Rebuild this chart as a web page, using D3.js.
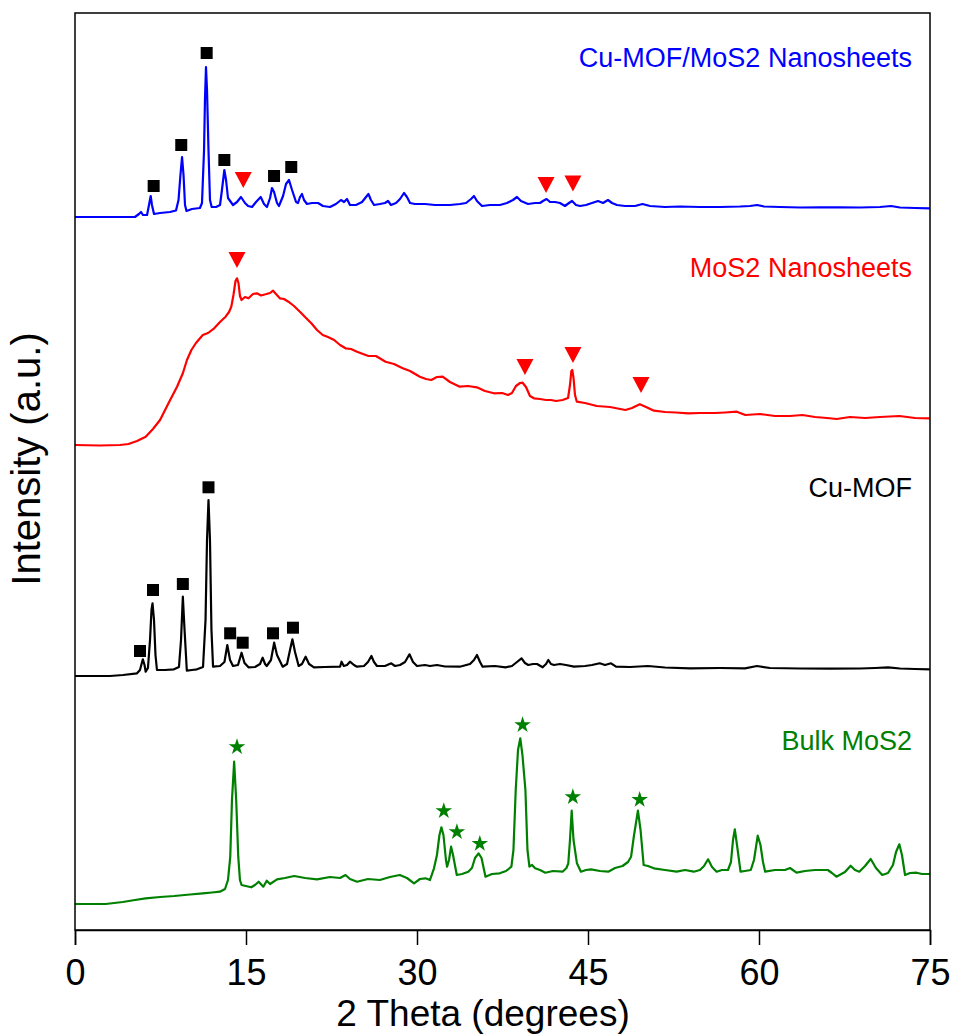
<!DOCTYPE html>
<html>
<head>
<meta charset="utf-8">
<script src="https://cdn.jsdelivr.net/npm/d3@7"></script>
<style>
  html, body { margin: 0; padding: 0; background: #fff; }
  svg { display: block; font-family: Arial, "Liberation Sans", Helvetica, sans-serif; }
</style>
</head>
<body>
<svg id="chart" width="957" height="1034"></svg>
<script>
// ---------------- DATA ----------------
const xTicks = [0, 15, 30, 45, 60, 75];
const xLabel = "2 Theta (degrees)";
const yLabel = "Intensity (a.u.)";

const seriesNames = ["Cu-MOF/MoS2 Nanosheets", "MoS2 Nanosheets", "Cu-MOF", "Bulk MoS2"];
const seriesColors = ["#0000FF", "#FF0000", "#000000", "#008000"];
const labelIntensity = [863, 653, 433, 180];

// [2theta, stacked intensity (a.u.)]
const cuMofMos2 = [[0,713],[5.26,713],[5.61,716],[5.79,718],[5.96,715],[6.32,715],[6.49,725],[6.64,734],[6.75,725],[6.93,716],[7.46,717],[8.33,718],[8.86,719.5],[9.08,730],[9.25,755],[9.39,773],[9.52,755],[9.65,725],[9.78,719],[10.26,721],[10.96,722],[11.14,727],[11.32,780],[11.40,830],[11.49,863],[11.58,840],[11.71,780],[11.84,730],[11.99,723],[12.37,723],[12.72,725],[12.89,740],[13.10,760],[13.25,750],[13.42,732],[13.86,725],[14.21,728],[14.56,733],[14.91,727],[15.18,724],[15.53,723],[15.88,728],[16.29,733],[16.58,726],[16.84,723],[17.11,732],[17.28,742],[17.46,738],[17.72,727],[17.89,724],[18.25,734],[18.51,746],[18.77,750],[19.04,740],[19.39,728],[19.56,727],[19.74,733],[19.91,736],[20.09,730],[20.35,726],[20.79,727],[21.32,727],[21.75,724],[22.37,723],[22.89,726],[23.33,730],[23.60,728],[23.86,731],[24.12,725],[24.65,725],[25.18,728],[25.53,733],[25.74,736],[25.96,730],[26.23,725],[26.75,726],[27.19,727],[27.46,729],[27.72,725],[28.16,727],[28.51,731],[28.86,737],[29.12,733],[29.39,727],[29.82,726],[30.70,726],[31.58,725],[32.89,725],[33.77,726],[34.30,727],[34.74,731],[35.00,734],[35.26,729],[35.70,724],[36.40,725],[37.28,725],[37.89,727],[38.42,730],[38.77,733],[39.12,729],[39.74,726],[40.35,727],[40.79,727],[41.05,729],[41.37,731],[41.67,728],[42.11,728],[42.54,727],[42.98,724],[43.33,727],[43.60,729],[43.95,725],[44.30,724],[44.82,725],[45.35,727],[45.88,729],[46.32,727],[46.75,730],[47.11,727],[47.54,725],[48.25,724],[49.12,724],[49.78,726],[50.44,724],[51.75,723],[53.07,723.5],[54.82,723],[56.58,723],[58.33,723.5],[59.21,724],[59.82,725],[60.44,723.5],[61.84,723],[63.60,722.5],[65.35,722.7],[67.11,722.7],[68.86,722.5],[70.61,723],[71.58,724],[72.37,722.5],[73.68,722],[75,721.7]];

const mos2Nano = [[0,485],[2.19,484.5],[3.95,485],[4.69,486],[5.44,489],[6.20,493.3],[6.84,501],[7.46,510],[8.20,526.7],[8.95,543.3],[9.46,556.7],[9.82,570],[10.21,580],[10.61,587],[11.21,595],[11.67,597],[12.21,601.7],[12.72,608],[13.21,613.3],[13.51,618],[13.71,623.3],[13.90,635],[14.08,649],[14.21,651.7],[14.34,647],[14.47,634],[14.61,630],[14.91,633],[15.22,631.7],[15.61,636],[15.96,636.7],[16.32,634.5],[16.72,635.7],[17.11,637],[17.37,639.3],[17.63,636],[17.97,631.7],[18.33,631],[18.72,628.3],[19.21,624],[19.73,618.3],[20.18,613],[20.73,606.7],[21.23,600],[21.73,595],[22.19,593],[22.73,590],[23.25,585],[23.73,581.7],[24.21,581],[24.74,578.3],[25.26,576],[25.74,574],[26.40,574],[27.24,568.3],[27.98,566],[28.75,561.7],[29.39,559],[30.25,553.3],[30.79,551],[31.25,550],[31.75,553],[32.25,553.3],[32.89,548],[33.75,543.3],[34.47,544],[35.25,542.7],[35.96,539],[36.75,536.7],[37.46,537],[37.98,535],[38.33,537],[38.68,544],[39.04,547],[39.26,547.3],[39.56,543],[39.91,534],[40.26,531.7],[40.79,531],[41.32,530],[41.76,530],[42.19,529],[42.77,530],[43.25,532],[43.42,545],[43.54,559],[43.62,560],[43.73,552],[43.86,535],[44.02,528.3],[44.74,527],[45.77,524],[46.93,523],[48.28,520],[48.86,522],[49.54,525.7],[50.09,523],[50.79,519.3],[51.75,518],[52.72,517.5],[53.79,516.7],[54.82,517],[56.14,517],[57.02,517.5],[58.05,518.3],[58.80,515],[60.09,516],[61.40,514],[62.72,514],[63.81,515],[64.91,513],[65.96,512],[66.82,511],[67.98,513],[69.30,512],[70.61,513],[72.32,514],[73.68,512],[75,511.7]];

const cuMof = [[0,254],[3.07,254],[4.21,255],[5.44,256.7],[5.70,260],[5.95,270.7],[6.10,265],[6.20,258.3],[6.40,262],[6.58,290],[6.71,320],[6.80,326.7],[6.93,310],[7.06,275],[7.19,260],[7.89,260],[8.68,260.7],[9.12,263],[9.30,290],[9.46,333.3],[9.61,300],[9.81,259.3],[10.26,260],[10.70,260.7],[11.23,263],[11.45,310],[11.58,390],[11.71,430],[11.84,390],[11.97,300],[12.11,263.3],[12.72,264],[13.11,268],[13.36,285],[13.60,270],[13.86,264],[14.30,265],[14.61,277.3],[14.87,267],[15.22,262.7],[15.79,263],[16.23,266],[16.46,272.3],[16.67,266],[16.82,264],[17.19,270],[17.47,287.3],[17.72,275],[18.22,263.3],[18.60,266],[18.86,280],[19.07,290.7],[19.30,278],[19.62,264],[19.91,266],[20.23,273.3],[20.53,266],[20.96,262.7],[21.93,263],[23.25,263.3],[23.38,268.3],[23.58,264],[23.86,265],[24.12,268.3],[24.47,265],[24.74,263.3],[25.35,264],[25.70,268],[26.00,274],[26.23,268],[26.49,264],[27.19,264],[27.74,266.7],[28.07,264],[28.51,265],[28.95,268],[29.34,275.7],[29.65,268],[30.00,264],[30.70,265],[31.14,264],[31.75,265],[32.46,263.5],[33.75,263.3],[34.65,266],[35.00,270],[35.26,275],[35.53,268],[35.75,263.3],[36.84,264],[37.76,262.7],[38.33,264],[38.77,268],[39.17,271.7],[39.47,267],[39.76,265],[40.18,266],[40.53,266],[41.02,262.7],[41.32,266],[41.52,270],[41.75,266],[42.02,265],[42.54,266],[43.07,265],[43.77,263.3],[44.74,264],[45.35,265],[46.03,266.7],[46.49,265],[47.02,266.7],[47.46,263.3],[48.68,263],[50.26,264],[51.75,262.5],[53.95,261.7],[56.58,262],[58.77,261.7],[59.82,264],[60.96,262],[63.60,261.5],[66.23,261.3],[68.86,261.5],[70.18,262],[71.32,262.7],[72.37,261.5],[73.68,261],[75,260.7]];

const bulkMos2 = [[0,26],[2.69,26],[4.19,28],[5.26,30],[6.20,31.7],[7.46,33],[8.70,34],[10.09,35.5],[11.21,36.7],[12.02,37.5],[12.71,38.3],[13.16,41],[13.42,50],[13.62,73.3],[13.77,130],[13.96,168.3],[14.14,130],[14.32,73.3],[14.47,50],[14.61,45],[15.46,42.7],[15.79,45],[16.11,48.3],[16.52,43.3],[16.82,49.3],[17.11,46],[17.72,50.7],[18.42,52],[19.22,54],[20.18,52],[21.23,50.7],[22.37,53],[23.25,52],[23.73,55],[24.12,51],[24.74,48.3],[25.70,51],[26.74,50],[27.63,53],[28.49,55],[29.12,52],[29.74,46.7],[30.26,51],[30.75,51.7],[31.14,50],[31.49,61.7],[31.75,75],[31.97,95],[32.14,102.7],[32.32,95],[32.54,70],[32.64,63.3],[32.81,70],[32.99,83.3],[33.16,75],[33.49,55],[33.95,56],[34.50,58.3],[34.82,62],[35.09,72],[35.40,76.7],[35.66,72],[36.01,53.3],[36.58,56],[37.25,56.7],[37.81,59],[38.28,63.3],[38.46,80],[38.66,140],[38.86,180],[39.06,191.7],[39.25,175],[39.51,140],[39.69,80],[39.86,63.3],[40.09,65],[40.36,61.7],[40.79,60],[41.26,57.3],[41.93,59],[42.77,58.3],[43.11,62],[43.27,66.7],[43.42,90],[43.57,119.3],[43.73,90],[44.03,66.7],[44.38,58.3],[44.82,60],[45.27,60.7],[46.05,59],[46.78,58.3],[47.37,62],[48.03,64],[48.51,68],[48.78,73.3],[49.04,95],[49.38,119.3],[49.61,100],[49.88,65],[50.26,64],[50.78,61.7],[51.75,60],[52.78,58.3],[53.51,60],[54.28,58.3],[54.82,60],[55.18,64],[55.53,70.7],[55.88,63],[56.28,58.3],[56.75,60],[57.28,60],[57.54,68],[57.72,90],[57.88,100.7],[58.07,85],[58.38,58.3],[58.77,59],[59.28,60],[59.56,70],[59.89,94.3],[60.13,85],[60.35,68],[60.54,58.3],[61.40,60],[62.28,60],[62.72,62],[63.29,57.3],[64.04,59],[64.91,60],[66.04,60],[66.40,57],[66.79,53.3],[67.54,58],[68.04,64.3],[68.42,60],[68.80,58.3],[69.30,64],[69.80,71],[70.26,62],[70.81,55],[71.32,57],[71.75,65],[72.02,78],[72.31,85.7],[72.54,75],[72.81,55],[73.25,57],[73.82,57.3],[74.30,56],[75,56]];

// Marker positions [2theta, intensity]
const squareMarks = [[6.90,744],[9.32,785],[11.55,877],[13.10,770],[17.46,754],[18.97,763],
                     [5.70,279],[6.84,340],[9.46,346],[11.71,442.7],[13.61,296.7],[14.71,287.3],[17.37,296.7],[19.12,302.3]];
const triangleMarks = [[14.76,750],[41.32,745],[43.68,746.5],
                       [14.21,670],[39.47,563],[43.68,575],[49.65,545]];
const starMarks = [[14.21,184],[32.35,120],[33.50,99],[35.51,87.3],[39.26,206],[43.67,134],[49.53,131.3]];

// ---------------- CHART ----------------
const svg = d3.select("#chart");
const mLeft = 75, mRight = 930, mTop = 13, mBottom = 930;

const x = d3.scaleLinear().domain([0, 75]).range([mLeft, mRight]);
const y = d3.scaleLinear().domain([0, 917]).range([mBottom, mTop]);

const line = d3.line().x(d => x(d[0])).y(d => y(d[1]));

const allSeries = [cuMofMos2, mos2Nano, cuMof, bulkMos2];

svg.append("g").selectAll("path")
  .data(allSeries)
  .join("path")
  .attr("d", line)
  .attr("fill", "none")
  .attr("stroke", (d, i) => seriesColors[i])
  .attr("stroke-width", 2.2)
  .attr("stroke-linejoin", "round");

// markers
svg.append("g").selectAll("path")
  .data(squareMarks)
  .join("path")
  .attr("transform", d => `translate(${x(d[0])},${y(d[1])})`)
  .attr("d", d3.symbol(d3.symbolSquare, 144))
  .attr("fill", "#000");

const downTriangle = {
  draw(ctx, size) {
    const w = 8.5, h = 8;
    ctx.moveTo(-w, -h);
    ctx.lineTo(w, -h);
    ctx.lineTo(0, h);
    ctx.closePath();
  }
};
svg.append("g").selectAll("path")
  .data(triangleMarks)
  .join("path")
  .attr("transform", d => `translate(${x(d[0])},${y(d[1])})`)
  .attr("d", d3.symbol(downTriangle, 100))
  .attr("fill", "#FF0000");

svg.append("g").selectAll("path")
  .data(starMarks)
  .join("path")
  .attr("transform", d => `translate(${x(d[0])},${y(d[1]) + 1})`)
  .attr("d", d3.symbol(d3.symbolStar, 85))
  .attr("fill", "#008000");

// frame
svg.append("rect")
  .attr("x", mLeft).attr("y", mTop)
  .attr("width", mRight - mLeft).attr("height", mBottom - mTop)
  .attr("fill", "none").attr("stroke", "#000").attr("stroke-width", 1.5);

// x axis
const xAxis = d3.axisBottom(x).tickValues(xTicks).tickSize(15).tickPadding(14).tickFormat(d3.format("d"));
const gx = svg.append("g").attr("transform", `translate(0,${mBottom})`).call(xAxis);
gx.select(".domain").attr("stroke", "#000").attr("stroke-width", 1.5);
gx.selectAll(".tick line").attr("stroke", "#000").attr("stroke-width", 1.5);
gx.selectAll(".tick text").attr("font-size", 36).attr("fill", "#000")
  .attr("font-family", "Arial, 'Liberation Sans', sans-serif");

// axis titles
svg.append("text")
  .attr("x", 483).attr("y", 1026)
  .attr("text-anchor", "middle")
  .attr("font-size", 37).attr("fill", "#000")
  .text(xLabel);

svg.append("text")
  .attr("transform", "translate(40,459) rotate(-90)")
  .attr("text-anchor", "middle")
  .attr("font-size", 40).attr("fill", "#000")
  .text(yLabel);

// series labels
svg.append("g").selectAll("text")
  .data(seriesNames)
  .join("text")
  .attr("x", x(73.42))
  .attr("y", (d, i) => y(labelIntensity[i]))
  .attr("text-anchor", "end")
  .attr("font-size", 27)
  .attr("fill", (d, i) => seriesColors[i])
  .text(d => d);
</script>
</body>
</html>
